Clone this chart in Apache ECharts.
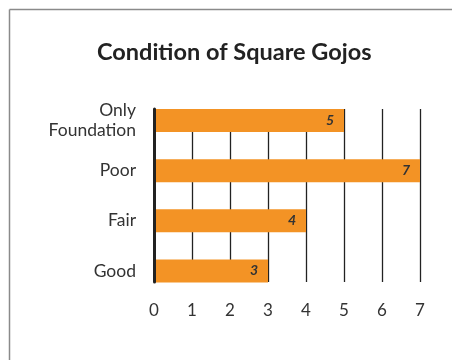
<!DOCTYPE html>
<html>
<head>
<meta charset="utf-8">
<script src="https://cdn.jsdelivr.net/npm/echarts@6/dist/echarts.min.js"></script>
<style>
  html, body { margin: 0; padding: 0; background: #fff; }
  #chart { width: 452px; height: 360px; }
</style>
</head>
<body>
<div id="chart"></div>
<script>
// Gojo condition survey
const categories = ['Good', 'Fair', 'Poor', 'Only\nFoundation'];
const counts = [3, 4, 7, 5];
const xTicks = [0, 1, 2, 3, 4, 5, 6, 7];

const ORANGE = '#F39325';
const INK = '#222222';
const FONT = 'Lato';

const chart = echarts.init(document.getElementById('chart'), null, { renderer: 'canvas' });

chart.setOption({
  animation: false,
  backgroundColor: '#ffffff',
  title: {
    text: 'Condition of Square Gojos',
    left: 92,
    top: 35,
    textStyle: { fontFamily: FONT, fontWeight: 'bold', fontSize: 23.5, color: INK }
  },
  graphic: [
    { type: 'line', shape: { x1: 9.5, y1: 9.5, x2: 452, y2: 9.5 }, style: { stroke: '#8a8a8a', lineWidth: 1.5 } },
    { type: 'line', shape: { x1: 9.5, y1: 9.5, x2: 9.5, y2: 360 }, style: { stroke: '#8a8a8a', lineWidth: 1.5 } }
  ],
  grid: [
    // bars and category labels
    { left: 154, right: 32, top: 95.5, height: 200.5, containLabel: false },
    // vertical rules, baseline and tick labels
    { left: 154, right: 32, top: 109, height: 173, containLabel: false }
  ],
  xAxis: [
    {
      gridIndex: 0, type: 'value', min: 0, max: xTicks[xTicks.length - 1], interval: 1,
      axisLine: { show: false }, axisTick: { show: false }, axisLabel: { show: false },
      splitLine: { show: false }
    },
    {
      gridIndex: 1, type: 'value', min: 0, max: xTicks[xTicks.length - 1], interval: 1,
      axisLine: { show: false }, axisTick: { show: false },
      axisLabel: { margin: 20, fontFamily: FONT, fontSize: 17, color: '#333',
                   formatter: v => xTicks.includes(v) ? String(v) : '' },
      splitLine: { show: true, lineStyle: { color: INK, width: 1.3 } }
    }
  ],
  yAxis: [
    {
      gridIndex: 0, type: 'category', data: categories,
      axisLine: { show: false }, axisTick: { show: false },
      axisLabel: { margin: 18, fontFamily: FONT, fontSize: 17.5, color: '#333', lineHeight: 20, align: 'right' },
      splitLine: { show: false }
    },
    {
      gridIndex: 1, type: 'category', data: categories, z: 5,
      axisLine: { show: true, lineStyle: { color: INK, width: 3 } },
      axisTick: { show: false }, axisLabel: { show: false }, splitLine: { show: false }
    }
  ],
  series: [
    {
      type: 'bar',
      xAxisIndex: 0, yAxisIndex: 0,
      data: counts,
      barWidth: 23,
      itemStyle: { color: ORANGE },
      label: {
        show: true, position: 'insideRight', distance: 10,
        fontFamily: FONT, fontStyle: 'italic', fontWeight: 'bold', fontSize: 14, color: '#333'
      }
    }
  ]
});
</script>
</body>
</html>
